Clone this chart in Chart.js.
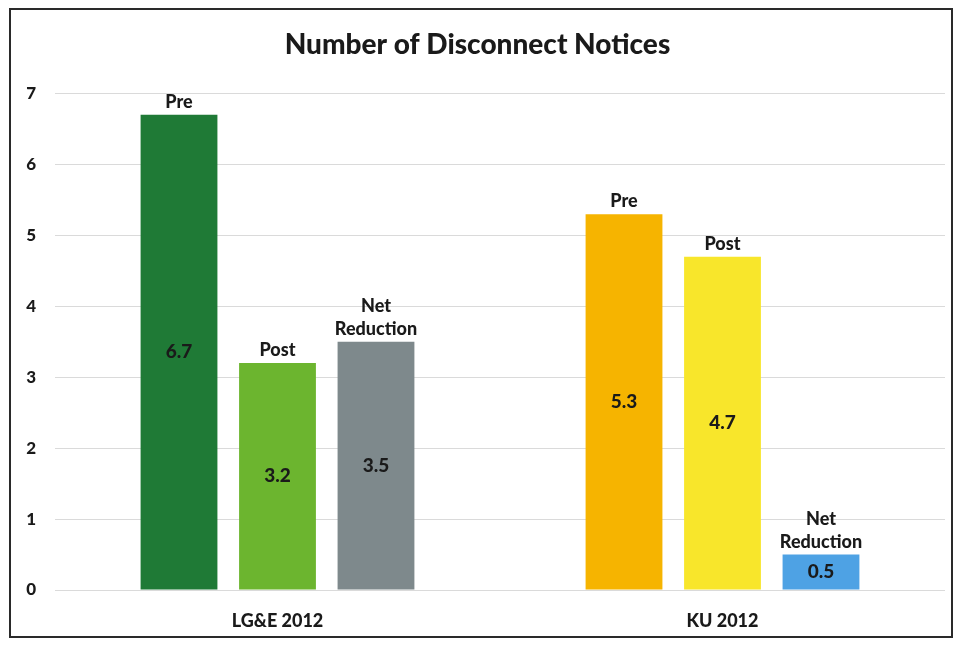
<!DOCTYPE html>
<html>
<head>
<meta charset="utf-8">
<script src="https://cdn.jsdelivr.net/npm/chart.js@4"></script>
<style>
  html, body { margin: 0; padding: 0; background: #fff; }
  #wrap { position: relative; width: 961px; height: 646px; }
  #frame { position: absolute; left: 9px; top: 8px; width: 944px; height: 630px; border: 2px solid #2a2a2a; box-sizing: border-box; pointer-events: none; }
  canvas { position: absolute; left: 0; top: 0; }
</style>
</head>
<body>
<div id="wrap">
  <canvas id="disconnectChart" width="961" height="646"></canvas>
  <div id="frame"></div>
</div>
<script>
const categories = ["LG&E 2012", "KU 2012"];
const seriesNames = ["Pre", "Post", "Net Reduction"];
const preValues = [6.7, 5.3];
const postValues = [3.2, 4.7];
const netValues = [3.5, 0.5];
const yTicks = [0, 1, 2, 3, 4, 5, 6, 7];

const FONT = "Lato, 'Open Sans', sans-serif";
const TEXT = "#1a1a1a";

// draws series name above each bar and value in the middle
const barLabels = {
  id: "barLabels",
  afterDatasetsDraw(chart) {
    const ctx = chart.ctx;
    ctx.save();
    ctx.fillStyle = TEXT;
    ctx.textAlign = "center";
    chart.data.datasets.forEach((ds, i) => {
      const meta = chart.getDatasetMeta(i);
      meta.data.forEach((bar, j) => {
        const v = ds.data[j];
        ctx.font = "900 18px " + FONT;
        ctx.textBaseline = "alphabetic";
        const lines = ds.label === "Net Reduction" ? ["Net", "Reduction"] : [ds.label];
        let y = bar.y - 7;
        for (let k = lines.length - 1; k >= 0; k--) {
          ctx.fillText(lines[k], bar.x, y);
          y -= 23;
        }
        ctx.font = "900 19px " + FONT;
        ctx.textBaseline = "middle";
        ctx.fillText(v.toFixed(1), bar.x, (bar.y + bar.base) / 2);
      });
    });
    ctx.restore();
  }
};

new Chart(document.getElementById("disconnectChart").getContext("2d"), {
  type: "bar",
  data: {
    labels: categories,
    datasets: [
      { label: seriesNames[0], data: preValues, backgroundColor: ["#1f7a36", "#f6b400"] },
      { label: seriesNames[1], data: postValues, backgroundColor: ["#6cb52f", "#f8e62b"] },
      { label: seriesNames[2], data: netValues, backgroundColor: ["#7e898c", "#4ea2e4"] }
    ]
  },
  plugins: [barLabels],
  options: {
    responsive: false,
    animation: false,
    layout: { padding: { left: 10, right: 16, top: 0, bottom: 0 } },
    datasets: { bar: { categoryPercentage: 0.664, barPercentage: 0.78 } },
    plugins: {
      legend: { display: false },
      tooltip: { enabled: false },
      title: {
        display: true,
        text: "Number of Disconnect Notices",
        color: TEXT,
        font: { family: FONT, size: 28, weight: "900" },
        padding: { top: 28, bottom: 32 }
      }
    },
    scales: {
      x: {
        afterFit(scale) { scale.height = 56; },
        grid: { display: false, drawTicks: false },
        border: { display: false },
        ticks: { color: TEXT, padding: 20, font: { family: FONT, size: 18, weight: "900" } }
      },
      y: {
        min: 0,
        max: 7,
        afterFit(scale) { scale.width = 45; },
        afterBuildTicks(scale) { scale.ticks = yTicks.map(v => ({ value: v })); },
        border: { display: false },
        grid: { color: "#dadada", lineWidth: 1, drawTicks: false },
        ticks: { color: TEXT, padding: 19, font: { family: FONT, size: 17, weight: "900" } }
      }
    }
  }
});
</script>
</body>
</html>
